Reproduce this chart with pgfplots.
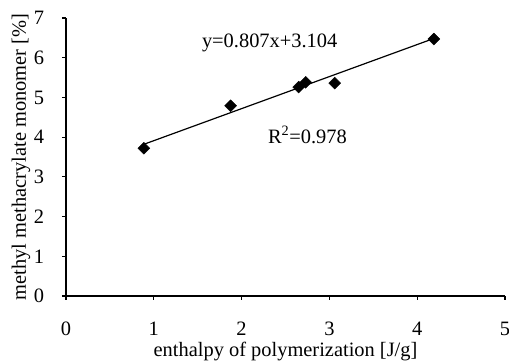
\documentclass[border=0pt]{standalone}
\usepackage{fontspec}
\setmainfont{Liberation Serif}
\usepackage{pgfplots}
\pgfplotsset{compat=1.18}
\begin{document}
\begin{tikzpicture}
\begin{axis}[
  name=ax,
  scale only axis,
  width=439bp, height=278bp,
  xmin=0, xmax=5, ymin=0, ymax=7,
  xtick={0,1,2,3,4,5}, ytick={0,1,2,3,4,5,6,7},
  axis x line=bottom, axis y line=left,
  axis line style={-, line width=1.6pt},
  tick align=outside,
  major tick length=4bp,
  tick style={line width=1.2pt, black},
  /pgf/number format/assume math mode=true,
  ticklabel style={font=\fontsize{20.5}{22}\selectfont, inner sep=0pt},
  xticklabel style={anchor=center, yshift=-29bp},
  yticklabel style={anchor=center, xshift=-23bp},
  xlabel={enthalpy of polymerization [J/g]},
  ylabel={methyl methacrylate monomer [\%]},
  xlabel style={font=\fontsize{20.5}{22}\selectfont, inner sep=0pt, at={(axis description cs:0.5,-0.2)}, anchor=center},
  ylabel style={font=\fontsize{20.5}{22}\selectfont, inner sep=0pt, at={(axis description cs:-0.1025,0.5)}, anchor=center},
  clip=false,
]
\addplot[only marks, mark=square*, mark size=4.2bp, mark options={rotate=45, fill=black, draw=black}] coordinates {
  (0.886,3.72) (1.875,4.79) (2.65,5.26) (2.73,5.38) (3.06,5.36) (4.19,6.47)
};
\addplot[black, line width=1.2pt, no marks] coordinates {(0.88,3.814) (4.2,6.493)};
\node[font=\fontsize{20.5}{22}\selectfont] at (axis cs:2.32,6.37) {y=0.807x+3.104};
\node[font=\fontsize{20.5}{22}\selectfont] at (axis cs:2.75,4.06) {R\textsuperscript{2}=0.978};
\end{axis}
\pgfresetboundingbox
\path (ax.south west) ++(-66bp,-65bp) coordinate (bl);
\path (ax.north east) ++(4bp,18bp) coordinate (tr);
\path[use as bounding box] (bl) rectangle (tr);
\end{tikzpicture}
\end{document}
